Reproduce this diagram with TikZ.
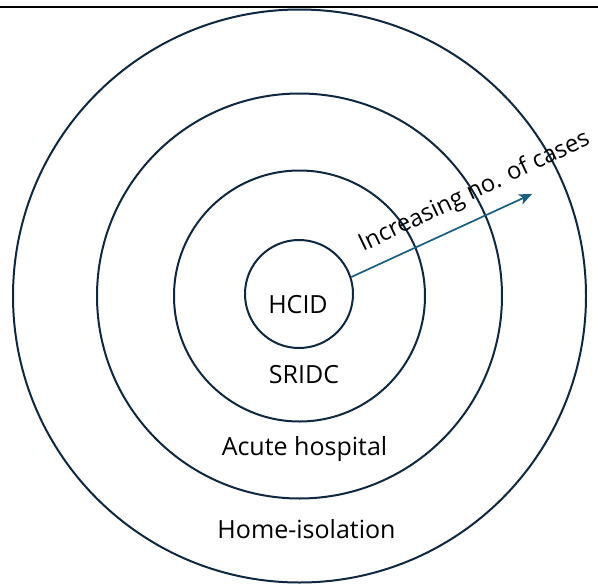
\documentclass[tikz,border=0pt]{standalone}
\usepackage{fontspec}
\setmainfont{Open Sans}
\usetikzlibrary{arrows.meta}
\definecolor{ringcol}{HTML}{0E2841}
\definecolor{arrowcol}{HTML}{156082}
\begin{document}
\begin{tikzpicture}[x=1pt,y=-1pt,
  ring/.style={draw=ringcol,line width=2pt,circle,inner sep=0pt},
  lbl/.style={font=\fontsize{25}{29}\selectfont,anchor=base,inner sep=0pt}]
\useasboundingbox (0,0) rectangle (598,584);
\draw[black,line width=2.3pt] (0,7.2) coordinate (la) -- (598,7.2) coordinate (lb);
\node[ring,minimum size=573pt] (outer) at (299.5,296) {};
\node[ring,minimum size=405pt] (acute) at (299.5,296) {};
\node[ring,minimum size=251pt] (sridc) at (299.5,296) {};
\node[ring,minimum size=108pt] (hcid) at (299,294) {};
\node[lbl] (t1) at (298,313) {HCID};
\node[lbl] (t2) at (304,383.3) {SRIDC};
\node[lbl] (t3) at (304.5,455) {Acute hospital};
\node[lbl] (t4) at (306.5,538) {Home-isolation};
\coordinate (tip) at (532,194);
\draw[arrowcol,line width=1.7pt,-{Stealth[length=13pt,width=11pt,inset=3.5pt]}] (hcid.18) -- (tip);
\node[lbl,font=\fontsize{23.8}{28}\selectfont,anchor=base west,rotate=25.4] (t5) at (363,252) {Increasing no. of cases};
\end{tikzpicture}
\end{document}
